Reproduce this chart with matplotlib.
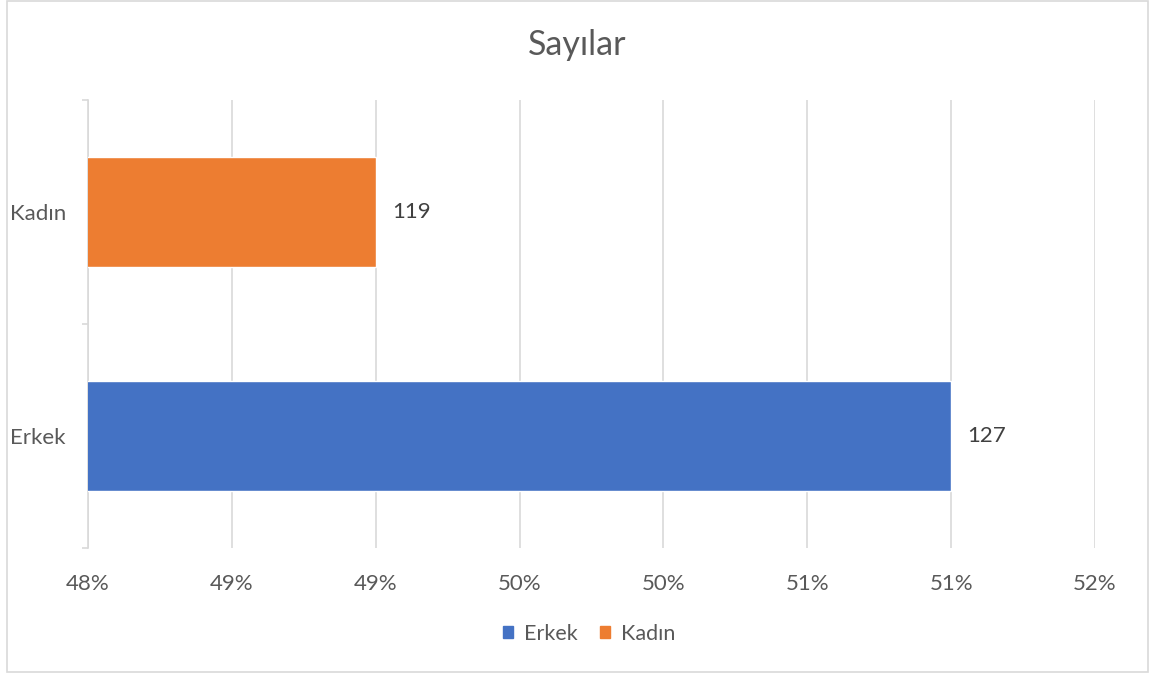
import matplotlib
matplotlib.use('Agg')
from matplotlib import pyplot as plt
from matplotlib.patches import Rectangle

plt.rcParams['font.family'] = ['Lato', 'DejaVu Sans']

# data
categories = ['Erkek', 'Kadın']
shares = [0.51, 0.49]
counts = [127, 119]
colors = ['#4472C4', '#ED7D31']
x_ticks = [0.48, 0.485, 0.49, 0.495, 0.50, 0.505, 0.51, 0.515]
x_ticklabels = ['48%', '49%', '49%', '50%', '50%', '51%', '51%', '52%']

fig = plt.figure(figsize=(11.55, 6.77), dpi=100)
ax = fig.add_axes([88 / 1155, 1 - 548 / 677, (1095 - 88) / 1155, (548 - 100) / 677])

# chart border
fig.patches.append(Rectangle((7 / 1155, 5 / 677), 1141 / 1155, 671 / 677,
                             transform=fig.transFigure, fill=False,
                             edgecolor='#d9d9d9', linewidth=1.2))

ypos = list(range(len(categories)))
bars = ax.barh(ypos, shares, height=0.487, color=colors, edgecolor='white',
               linewidth=1.0, zorder=3, left=0)
ax.set_xlim(0.48, 0.515)
ax.set_ylim(-0.5, 1.5)

for y, v, c in zip(ypos, shares, counts):
    ax.annotate(str(c), (v, y), xytext=(16, 0), textcoords='offset pixels',
                ha='left', va='center', fontsize=16, color='#404040')

ax.set_xticks(x_ticks)
ax.set_xticklabels(x_ticklabels, fontsize=16, color='#595959')
ax.tick_params(axis='x', length=0, pad=19)
ax.grid(axis='x', color='#d9d9d9', linewidth=1.2, zorder=0)

ax.set_yticks(ypos)
ax.set_yticklabels(categories, fontsize=16, color='#595959')
ax.set_yticks([-0.5, 0.5, 1.5], minor=True)
ax.tick_params(axis='y', which='major', length=0, pad=16)
ax.tick_params(axis='y', which='minor', length=4, color='#d9d9d9', width=1.2)

for s in ['top', 'right', 'bottom']:
    ax.spines[s].set_visible(False)
ax.spines['left'].set_color('#d9d9d9')
ax.spines['left'].set_linewidth(1.2)

fig.text(0.5, 1 - 45 / 677, 'Sayılar', ha='center', va='center',
         fontsize=24.5, color='#595959')

handles = [plt.Rectangle((0, 0), 1, 1, color=c) for c in colors]
fig.legend(handles, categories, loc='center', bbox_to_anchor=(0.51, 1 - 634 / 677),
           ncol=2, frameon=False, fontsize=15.5, labelcolor='#595959',
           handlelength=0.5, handleheight=0.5, handletextpad=0.5, columnspacing=1.0)

fig.savefig('out.png', dpi=100)
